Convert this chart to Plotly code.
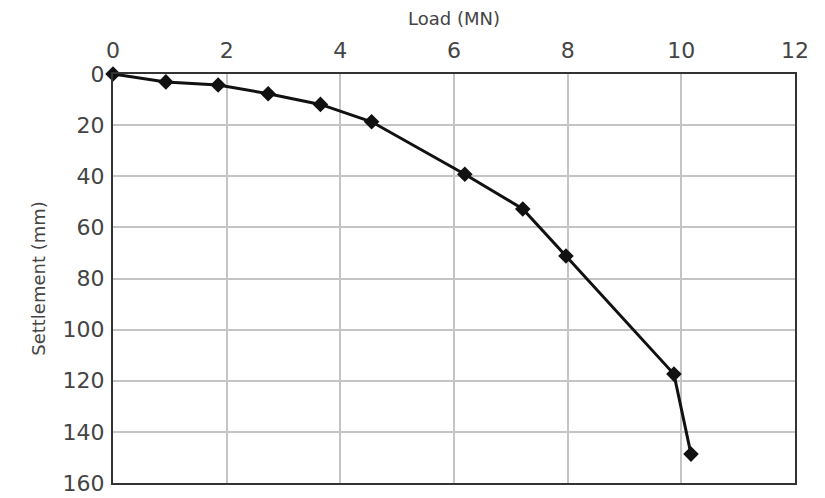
import plotly.graph_objects as go

load_mn = [0, 0.93, 1.85, 2.73, 3.65, 4.55, 6.19, 7.21, 7.97, 9.87, 10.17]
settlement_mm = [0, 3.1, 4.3, 7.7, 11.9, 18.7, 39.2, 52.8, 71.2, 117.4, 148.7]

x_ticks = [0, 2, 4, 6, 8, 10, 12]
y_ticks = [0, 20, 40, 60, 80, 100, 120, 140, 160]

fig = go.Figure()
fig.add_trace(go.Scatter(
    x=load_mn, y=settlement_mm, mode="lines+markers",
    line=dict(color="#111111", width=3),
    marker=dict(symbol="diamond", size=12, color="#111111"),
    cliponaxis=False, showlegend=False,
))

font = "DejaVu Sans, Verdana, sans-serif"
fig.update_layout(
    width=817, height=490,
    margin=dict(l=105, r=30, t=66, b=15, autoexpand=False),
    paper_bgcolor="white", plot_bgcolor="white",
    font=dict(family=font, color="#444444"),
    xaxis=dict(
        side="top", range=[0, 12], tickvals=x_ticks, ticktext=[str(v) for v in x_ticks],
        showgrid=True, gridcolor="#c4c4c4", gridwidth=1.5,
        showline=True, linecolor="#333333", linewidth=2, mirror=True,
        ticks="", ticklabelstandoff=5,
        tickfont=dict(size=22, color="#444444"), zeroline=False,
        title=dict(text="Load (MN)", font=dict(size=18, color="#444444"), standoff=14),
    ),
    yaxis=dict(
        range=[160, 0], tickvals=y_ticks, ticktext=[str(v) for v in y_ticks],
        showgrid=True, gridcolor="#c4c4c4", gridwidth=1.5,
        showline=True, linecolor="#333333", linewidth=2, mirror=True,
        ticks="", ticklabelstandoff=2,
        tickfont=dict(size=22, color="#444444"), zeroline=False,
        title=dict(text="Settlement (mm)", font=dict(size=18, color="#444444"), standoff=12),
    ),
)

fig.write_html("out.html")
